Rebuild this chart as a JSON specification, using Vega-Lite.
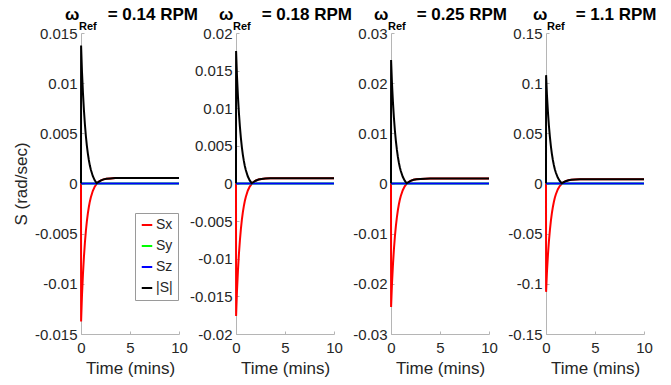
{
  "$schema": "https://vega.github.io/schema/vega-lite/v6.json",
  "padding": {"left": 12, "top": 6, "right": 5, "bottom": 5},
  "data": {"values": [
    {"p":"0.14","t":0,"Sx":0,"Sy":0,"Sz":0,"|S|":0},
    {"p":"0.14","t":0.01,"Sx":-0.01375,"Sy":0,"Sz":0,"|S|":0.01375},
    {"p":"0.14","t":0.1,"Sx":-0.01116,"Sy":0,"Sz":0,"|S|":0.01116},
    {"p":"0.14","t":0.2,"Sx":-0.00904,"Sy":0,"Sz":0,"|S|":0.00904},
    {"p":"0.14","t":0.3,"Sx":-0.0073,"Sy":0,"Sz":0,"|S|":0.0073},
    {"p":"0.14","t":0.4,"Sx":-0.00588,"Sy":0,"Sz":0,"|S|":0.00588},
    {"p":"0.14","t":0.5,"Sx":-0.00471,"Sy":0,"Sz":0,"|S|":0.00471},
    {"p":"0.14","t":0.6,"Sx":-0.00376,"Sy":0,"Sz":0,"|S|":0.00376},
    {"p":"0.14","t":0.7,"Sx":-0.00298,"Sy":0,"Sz":0,"|S|":0.00298},
    {"p":"0.14","t":0.8,"Sx":-0.00234,"Sy":0,"Sz":0,"|S|":0.00234},
    {"p":"0.14","t":0.9,"Sx":-0.00181,"Sy":0,"Sz":0,"|S|":0.00181},
    {"p":"0.14","t":1.0,"Sx":-0.00139,"Sy":0,"Sz":0,"|S|":0.00139},
    {"p":"0.14","t":1.2,"Sx":-0.00075,"Sy":0,"Sz":0,"|S|":0.00075},
    {"p":"0.14","t":1.4,"Sx":-0.00032,"Sy":0,"Sz":0,"|S|":0.00032},
    {"p":"0.14","t":1.6,"Sx":-0.00003,"Sy":0,"Sz":0,"|S|":0.00003},
    {"p":"0.14","t":1.8,"Sx":0.00016,"Sy":0,"Sz":0,"|S|":0.00016},
    {"p":"0.14","t":2.0,"Sx":0.00029,"Sy":0,"Sz":0,"|S|":0.00029},
    {"p":"0.14","t":2.3,"Sx":0.00041,"Sy":0,"Sz":0,"|S|":0.00041},
    {"p":"0.14","t":2.6,"Sx":0.00047,"Sy":0,"Sz":0,"|S|":0.00047},
    {"p":"0.14","t":3.0,"Sx":0.00051,"Sy":0,"Sz":0,"|S|":0.00051},
    {"p":"0.14","t":3.5,"Sx":0.00054,"Sy":0,"Sz":0,"|S|":0.00054},
    {"p":"0.14","t":4.0,"Sx":0.00055,"Sy":0,"Sz":0,"|S|":0.00055},
    {"p":"0.14","t":10,"Sx":0.00055,"Sy":0,"Sz":0,"|S|":0.00055},

    {"p":"0.18","t":0,"Sx":0,"Sy":0,"Sz":0,"|S|":0},
    {"p":"0.18","t":0.01,"Sx":-0.0176,"Sy":0,"Sz":0,"|S|":0.0176},
    {"p":"0.18","t":0.1,"Sx":-0.01428,"Sy":0,"Sz":0,"|S|":0.01428},
    {"p":"0.18","t":0.2,"Sx":-0.01157,"Sy":0,"Sz":0,"|S|":0.01157},
    {"p":"0.18","t":0.3,"Sx":-0.00934,"Sy":0,"Sz":0,"|S|":0.00934},
    {"p":"0.18","t":0.4,"Sx":-0.00753,"Sy":0,"Sz":0,"|S|":0.00753},
    {"p":"0.18","t":0.5,"Sx":-0.00603,"Sy":0,"Sz":0,"|S|":0.00603},
    {"p":"0.18","t":0.6,"Sx":-0.00481,"Sy":0,"Sz":0,"|S|":0.00481},
    {"p":"0.18","t":0.7,"Sx":-0.00381,"Sy":0,"Sz":0,"|S|":0.00381},
    {"p":"0.18","t":0.8,"Sx":-0.003,"Sy":0,"Sz":0,"|S|":0.003},
    {"p":"0.18","t":0.9,"Sx":-0.00232,"Sy":0,"Sz":0,"|S|":0.00232},
    {"p":"0.18","t":1.0,"Sx":-0.00178,"Sy":0,"Sz":0,"|S|":0.00178},
    {"p":"0.18","t":1.2,"Sx":-0.00096,"Sy":0,"Sz":0,"|S|":0.00096},
    {"p":"0.18","t":1.4,"Sx":-0.00041,"Sy":0,"Sz":0,"|S|":0.00041},
    {"p":"0.18","t":1.6,"Sx":-0.00004,"Sy":0,"Sz":0,"|S|":0.00004},
    {"p":"0.18","t":1.8,"Sx":0.0002,"Sy":0,"Sz":0,"|S|":0.0002},
    {"p":"0.18","t":2.0,"Sx":0.00037,"Sy":0,"Sz":0,"|S|":0.00037},
    {"p":"0.18","t":2.3,"Sx":0.00052,"Sy":0,"Sz":0,"|S|":0.00052},
    {"p":"0.18","t":2.6,"Sx":0.0006,"Sy":0,"Sz":0,"|S|":0.0006},
    {"p":"0.18","t":3.0,"Sx":0.00065,"Sy":0,"Sz":0,"|S|":0.00065},
    {"p":"0.18","t":3.5,"Sx":0.00069,"Sy":0,"Sz":0,"|S|":0.00069},
    {"p":"0.18","t":4.0,"Sx":0.0007,"Sy":0,"Sz":0,"|S|":0.0007},
    {"p":"0.18","t":10,"Sx":0.0007,"Sy":0,"Sz":0,"|S|":0.0007},

    {"p":"0.25","t":0,"Sx":0,"Sy":0,"Sz":0,"|S|":0},
    {"p":"0.25","t":0.01,"Sx":-0.0246,"Sy":0,"Sz":0,"|S|":0.0246},
    {"p":"0.25","t":0.1,"Sx":-0.01997,"Sy":0,"Sz":0,"|S|":0.01997},
    {"p":"0.25","t":0.2,"Sx":-0.01617,"Sy":0,"Sz":0,"|S|":0.01617},
    {"p":"0.25","t":0.3,"Sx":-0.01306,"Sy":0,"Sz":0,"|S|":0.01306},
    {"p":"0.25","t":0.4,"Sx":-0.01052,"Sy":0,"Sz":0,"|S|":0.01052},
    {"p":"0.25","t":0.5,"Sx":-0.00843,"Sy":0,"Sz":0,"|S|":0.00843},
    {"p":"0.25","t":0.6,"Sx":-0.00673,"Sy":0,"Sz":0,"|S|":0.00673},
    {"p":"0.25","t":0.7,"Sx":-0.00533,"Sy":0,"Sz":0,"|S|":0.00533},
    {"p":"0.25","t":0.8,"Sx":-0.00419,"Sy":0,"Sz":0,"|S|":0.00419},
    {"p":"0.25","t":0.9,"Sx":-0.00324,"Sy":0,"Sz":0,"|S|":0.00324},
    {"p":"0.25","t":1.0,"Sx":-0.00249,"Sy":0,"Sz":0,"|S|":0.00249},
    {"p":"0.25","t":1.2,"Sx":-0.00134,"Sy":0,"Sz":0,"|S|":0.00134},
    {"p":"0.25","t":1.4,"Sx":-0.00057,"Sy":0,"Sz":0,"|S|":0.00057},
    {"p":"0.25","t":1.6,"Sx":-0.00005,"Sy":0,"Sz":0,"|S|":0.00005},
    {"p":"0.25","t":1.8,"Sx":0.00029,"Sy":0,"Sz":0,"|S|":0.00029},
    {"p":"0.25","t":2.0,"Sx":0.00052,"Sy":0,"Sz":0,"|S|":0.00052},
    {"p":"0.25","t":2.3,"Sx":0.00073,"Sy":0,"Sz":0,"|S|":0.00073},
    {"p":"0.25","t":2.6,"Sx":0.00084,"Sy":0,"Sz":0,"|S|":0.00084},
    {"p":"0.25","t":3.0,"Sx":0.00091,"Sy":0,"Sz":0,"|S|":0.00091},
    {"p":"0.25","t":3.5,"Sx":0.00097,"Sy":0,"Sz":0,"|S|":0.00097},
    {"p":"0.25","t":4.0,"Sx":0.00098,"Sy":0,"Sz":0,"|S|":0.00098},
    {"p":"0.25","t":10,"Sx":0.00098,"Sy":0,"Sz":0,"|S|":0.00098},

    {"p":"1.1","t":0,"Sx":0,"Sy":0,"Sz":0,"|S|":0},
    {"p":"1.1","t":0.01,"Sx":-0.108,"Sy":0,"Sz":0,"|S|":0.108},
    {"p":"1.1","t":0.1,"Sx":-0.08765,"Sy":0,"Sz":0,"|S|":0.08765},
    {"p":"1.1","t":0.2,"Sx":-0.07101,"Sy":0,"Sz":0,"|S|":0.07101},
    {"p":"1.1","t":0.3,"Sx":-0.05734,"Sy":0,"Sz":0,"|S|":0.05734},
    {"p":"1.1","t":0.4,"Sx":-0.04618,"Sy":0,"Sz":0,"|S|":0.04618},
    {"p":"1.1","t":0.5,"Sx":-0.03699,"Sy":0,"Sz":0,"|S|":0.03699},
    {"p":"1.1","t":0.6,"Sx":-0.02954,"Sy":0,"Sz":0,"|S|":0.02954},
    {"p":"1.1","t":0.7,"Sx":-0.0234,"Sy":0,"Sz":0,"|S|":0.0234},
    {"p":"1.1","t":0.8,"Sx":-0.01838,"Sy":0,"Sz":0,"|S|":0.01838},
    {"p":"1.1","t":0.9,"Sx":-0.01421,"Sy":0,"Sz":0,"|S|":0.01421},
    {"p":"1.1","t":1.0,"Sx":-0.01092,"Sy":0,"Sz":0,"|S|":0.01092},
    {"p":"1.1","t":1.2,"Sx":-0.00589,"Sy":0,"Sz":0,"|S|":0.00589},
    {"p":"1.1","t":1.4,"Sx":-0.00252,"Sy":0,"Sz":0,"|S|":0.00252},
    {"p":"1.1","t":1.6,"Sx":-0.00024,"Sy":0,"Sz":0,"|S|":0.00024},
    {"p":"1.1","t":1.8,"Sx":0.00125,"Sy":0,"Sz":0,"|S|":0.00125},
    {"p":"1.1","t":2.0,"Sx":0.00228,"Sy":0,"Sz":0,"|S|":0.00228},
    {"p":"1.1","t":2.3,"Sx":0.00322,"Sy":0,"Sz":0,"|S|":0.00322},
    {"p":"1.1","t":2.6,"Sx":0.00369,"Sy":0,"Sz":0,"|S|":0.00369},
    {"p":"1.1","t":3.0,"Sx":0.00401,"Sy":0,"Sz":0,"|S|":0.00401},
    {"p":"1.1","t":3.5,"Sx":0.00424,"Sy":0,"Sz":0,"|S|":0.00424},
    {"p":"1.1","t":4.0,"Sx":0.00432,"Sy":0,"Sz":0,"|S|":0.00432},
    {"p":"1.1","t":10,"Sx":0.00432,"Sy":0,"Sz":0,"|S|":0.00432}
  ]},
  "spacing": 57,
  "bounds": "flush",
  "resolve": {"scale": {"y": "independent", "color": "independent"}, "legend": {"color": "independent"}},
  "hconcat": [
    {
      "width": 98, "height": 301,
      "title": {"text": "ω\u00a0\u00a0\u00a0\u00a0\u00a0\u00a0= 0.14 RPM", "subtitle": "\u200b\u2002\u2002\u00a0Ref", "dx": -16},
      "transform": [{"filter": "datum.p == '0.14'"}, {"fold": ["Sx", "Sy", "Sz", "|S|"], "as": ["series", "val"]}],
      "mark": {"type": "line", "strokeWidth": 2},
      "encoding": {
        "x": {"field": "t", "type": "quantitative", "scale": {"domain": [0, 10], "nice": false}, "axis": {"values": [0, 5, 10], "title": "Time (mins)"}},
        "y": {"field": "val", "type": "quantitative", "scale": {"domain": [-0.015, 0.015], "nice": false, "zero": false}, "axis": {"values": [-0.015, -0.01, -0.005, 0, 0.005, 0.01, 0.015], "labelExpr": "'' + datum.value", "title": "S (rad/sec)"}},
        "color": {"field": "series", "type": "nominal", "scale": {"domain": ["Sx", "Sy", "Sz", "|S|"], "range": ["#ff0000", "#00ff00", "#0000ff", "#000000"]},
          "legend": {"title": null, "orient": "none", "legendX": 54, "legendY": 180, "fillColor": "#ffffff", "strokeColor": "#9a9a9a", "padding": 5, "symbolType": "stroke", "symbolStrokeWidth": 2, "symbolSize": 110, "labelFontSize": 14, "labelColor": "#262626", "labelFont": "Liberation Sans", "rowPadding": 7, "labelOffset": 2}}
      }
    },
    {
      "width": 98, "height": 301,
      "title": {"text": "ω\u00a0\u00a0\u00a0\u00a0\u00a0\u00a0= 0.18 RPM", "subtitle": "\u200b\u2002\u2002\u00a0Ref", "dx": -17},
      "transform": [{"filter": "datum.p == '0.18'"}, {"fold": ["Sx", "Sy", "Sz", "|S|"], "as": ["series", "val"]}],
      "mark": {"type": "line", "strokeWidth": 2},
      "encoding": {
        "x": {"field": "t", "type": "quantitative", "scale": {"domain": [0, 10], "nice": false}, "axis": {"values": [0, 5, 10], "title": "Time (mins)"}},
        "y": {"field": "val", "type": "quantitative", "scale": {"domain": [-0.02, 0.02], "nice": false, "zero": false}, "axis": {"values": [-0.02, -0.015, -0.01, -0.005, 0, 0.005, 0.01, 0.015, 0.02], "labelExpr": "'' + datum.value", "title": null}},
        "color": {"field": "series", "type": "nominal", "scale": {"domain": ["Sx", "Sy", "Sz", "|S|"], "range": ["#ff0000", "#00ff00", "#0000ff", "#000000"]}, "legend": null}
      }
    },
    {
      "width": 98, "height": 301,
      "title": {"text": "ω\u00a0\u00a0\u00a0\u00a0\u00a0\u00a0= 0.25 RPM", "subtitle": "\u200b\u2002\u2002\u00a0Ref", "dx": -17},
      "transform": [{"filter": "datum.p == '0.25'"}, {"fold": ["Sx", "Sy", "Sz", "|S|"], "as": ["series", "val"]}],
      "mark": {"type": "line", "strokeWidth": 2},
      "encoding": {
        "x": {"field": "t", "type": "quantitative", "scale": {"domain": [0, 10], "nice": false}, "axis": {"values": [0, 5, 10], "title": "Time (mins)"}},
        "y": {"field": "val", "type": "quantitative", "scale": {"domain": [-0.03, 0.03], "nice": false, "zero": false}, "axis": {"values": [-0.03, -0.02, -0.01, 0, 0.01, 0.02, 0.03], "labelExpr": "'' + datum.value", "title": null}},
        "color": {"field": "series", "type": "nominal", "scale": {"domain": ["Sx", "Sy", "Sz", "|S|"], "range": ["#ff0000", "#00ff00", "#0000ff", "#000000"]}, "legend": null}
      }
    },
    {
      "width": 98, "height": 301,
      "title": {"text": "ω\u00a0\u00a0\u00a0\u00a0\u00a0\u00a0= 1.1 RPM", "subtitle": "\u200b\u2002\u2002\u00a0Ref", "dx": -13},
      "transform": [{"filter": "datum.p == '1.1'"}, {"fold": ["Sx", "Sy", "Sz", "|S|"], "as": ["series", "val"]}],
      "mark": {"type": "line", "strokeWidth": 2},
      "encoding": {
        "x": {"field": "t", "type": "quantitative", "scale": {"domain": [0, 10], "nice": false}, "axis": {"values": [0, 5, 10], "title": "Time (mins)"}},
        "y": {"field": "val", "type": "quantitative", "scale": {"domain": [-0.15, 0.15], "nice": false, "zero": false}, "axis": {"values": [-0.15, -0.1, -0.05, 0, 0.05, 0.1, 0.15], "labelExpr": "'' + datum.value", "title": null}},
        "color": {"field": "series", "type": "nominal", "scale": {"domain": ["Sx", "Sy", "Sz", "|S|"], "range": ["#ff0000", "#00ff00", "#0000ff", "#000000"]}, "legend": null}
      }
    }
  ],
  "config": {
    "view": {"stroke": null},
    "font": "Liberation Sans",
    "title": {"font": "Liberation Sans", "fontSize": 17, "fontWeight": "bold", "color": "#000000", "anchor": "start", "align": "left", "frame": "group", "subtitleFont": "Liberation Sans", "subtitleFontSize": 11, "subtitleFontWeight": "bold", "subtitleColor": "#000000", "subtitlePadding": -3, "offset": -7},
    "axis": {"grid": false, "domainColor": "#b5b5b5", "domainWidth": 1, "tickColor": "#b5b5b5", "tickSize": -3, "labelFont": "Liberation Sans", "labelFontSize": 15, "labelColor": "#262626", "labelPadding": 7, "labelFlush": false, "labelOverlap": false, "titleFont": "Liberation Sans", "titleFontSize": 17, "titleFontWeight": "normal", "titleColor": "#262626", "titlePadding": 4},
    "axisX": {"labelPadding": 9, "titlePadding": 5}
  }
}
